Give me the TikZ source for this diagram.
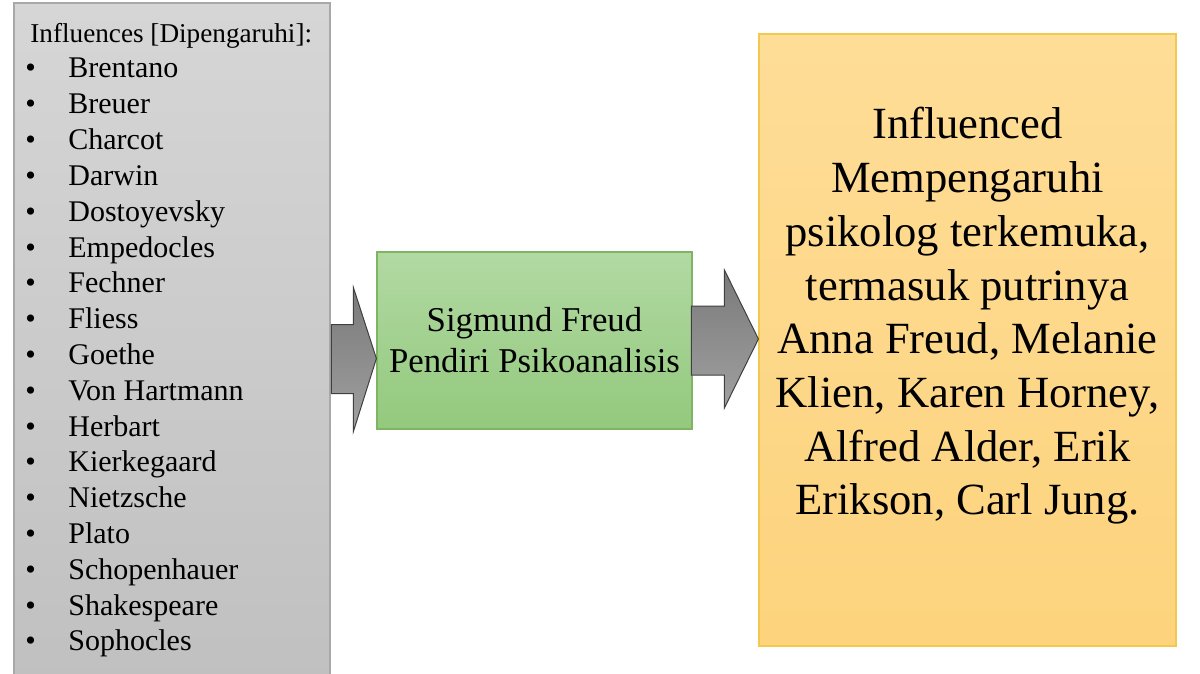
\documentclass[tikz,border=0pt]{standalone}
\usepackage{fontspec}
\setmainfont{Liberation Serif}
\usetikzlibrary{calc}
\definecolor{lsttop}{HTML}{D6D6D6}
\definecolor{lstbot}{HTML}{C0C0C0}
\definecolor{lstln}{HTML}{A8A8A8}
\definecolor{midtop}{HTML}{B2D9A3}
\definecolor{midbot}{HTML}{93C97D}
\definecolor{midln}{HTML}{7FB462}
\definecolor{outtop}{HTML}{FEDD97}
\definecolor{outbot}{HTML}{FDD37D}
\definecolor{outln}{HTML}{F2C84E}
\definecolor{arrtop}{HTML}{7A7A7A}
\definecolor{arrbot}{HTML}{A0A0A0}
\tikzset{
  px/.style={x=0.5pt, y=-0.5pt},
  f box/.style={draw, line width=0.6pt, inner sep=0pt, align=center},
  f list/.style={f box, draw=lstln, top color=lsttop, bottom color=lstbot, minimum width=158pt, minimum height=340pt},
  f mid/.style={f box, draw=midln, top color=midtop, bottom color=midbot, minimum width=157.5pt, minimum height=88.5pt, font=\fontsize{17.4}{20.5}\selectfont},
  f out/.style={f box, draw=outln, top color=outtop, bottom color=outbot, minimum width=208.5pt, minimum height=306pt},
  f head/.style={anchor=base west, inner sep=0pt, font=\fontsize{13.6}{16}\selectfont},
  f item/.style={anchor=base west, inner sep=0pt, font=\fontsize{15}{18}\selectfont},
  f text/.style={inner sep=0pt, align=center, font=\fontsize{22.3}{26.85}\selectfont},
  f arr/.style={draw=black!75, line width=0.5pt, top color=arrtop, bottom color=arrbot, line join=miter},
}
\begin{document}
\begin{tikzpicture}[px]
\useasboundingbox (0,0) rectangle (1200,674);
\fill[white] (0,0) rectangle (1200,674);
% influences list
\node[f list] (list) at (172,343) {};
\node[f head] (hd) at (30,43) {Influences [Dipengaruhi]:};
\foreach \nm [count=\k] in {Brentano, Breuer, Charcot, Darwin, Dostoyevsky, Empedocles, Fechner, Fliess, Goethe, Von Hartmann, Herbart, Kierkegaard, Nietzsche, Plato, Schopenhauer, Shakespeare, Sophocles} {
  \node[f item] (b\k) at (25,{78+35.8*(\k-1)}) {\textbullet};
  \node[f item] (i\k) at (68,{78+35.8*(\k-1)}) {\nm};
}
% Freud
\node[f mid] (mid) at (534.5,340.5) {Sigmund Freud\\Pendiri Psikoanalisis};
% influenced
\node[f out] (out) at (967.5,340) {};
\node[f text] (outtxt) at (967.5,316) {Influenced\\Mempengaruhi\\psikolog terkemuka,\\termasuk putrinya\\Anna Freud, Melanie\\Klien, Karen Horney,\\Alfred Alder, Erik\\Erikson, Carl Jung.};
% block arrows
\path (mid.west) ++(0,18) coordinate (lt);
\draw[f arr] (lt) -- ++(-23,-71) -- ++(0,37) -- ++(-22,0) -- ++(0,69) -- ++(22,0) -- ++(0,38) -- cycle;
\path (out.west) ++(0,-1) coordinate (rt);
\draw[f arr] (rt) -- ++(-34,-69) -- ++(0,36) -- ++(-33,0) -- ++(0,69) -- ++(33,0) -- ++(0,33) -- cycle;
\end{tikzpicture}
\end{document}
